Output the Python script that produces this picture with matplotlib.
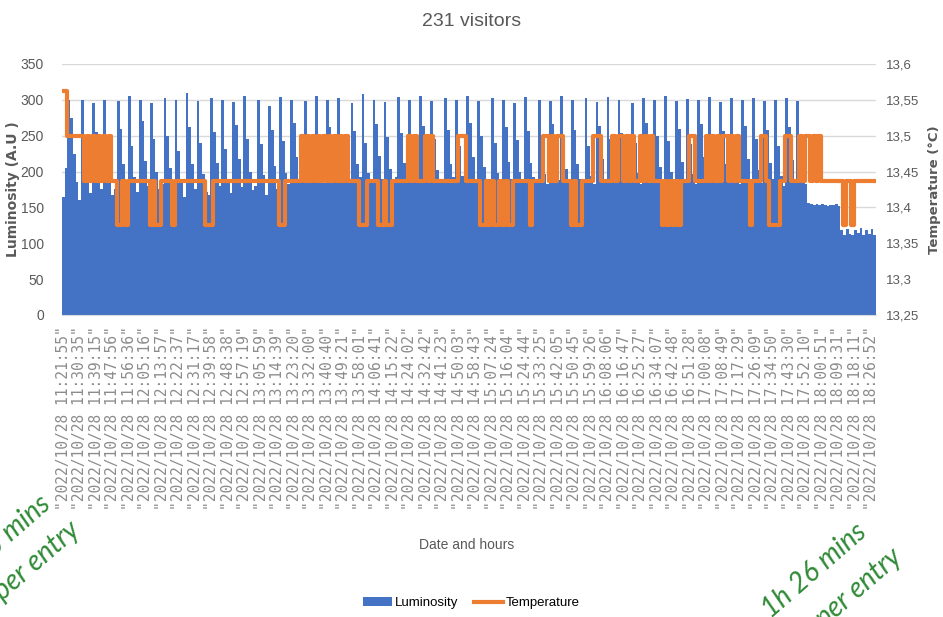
import numpy as np
import matplotlib
matplotlib.use("Agg")
import matplotlib.pyplot as plt
from matplotlib.patches import Patch
from matplotlib.lines import Line2D
from matplotlib.ticker import FuncFormatter, MultipleLocator

# x labels, one every 6 readings
time_labels = [
    "11:21:55", "11:30:35", "11:39:15", "11:47:56", "11:56:36", "12:05:16", "12:13:57",
    "12:22:37", "12:31:17", "12:39:58", "12:48:38", "12:57:19", "13:05:59", "13:14:39",
    "13:23:20", "13:32:00", "13:40:40", "13:49:21", "13:58:01", "14:06:41", "14:15:22",
    "14:24:02", "14:32:42", "14:41:23", "14:50:03", "14:58:43", "15:07:24", "15:16:04",
    "15:24:44", "15:33:25", "15:42:05", "15:50:45", "15:59:26", "16:08:06", "16:16:47",
    "16:25:27", "16:34:07", "16:42:48", "16:51:28", "17:00:08", "17:08:49", "17:17:29",
    "17:26:09", "17:34:50", "17:43:30", "17:52:10", "18:00:51", "18:09:31", "18:18:11",
    "18:26:52",
]
label_step = 6

# luminosity (A.U), estimated reading by reading
luminosity = [
    165, 205, 300, 275, 225, 185, 160,
    300, 240, 195, 170,  295, 255, 205, 175,  300, 230, 190, 168, 175,
    298, 260, 210, 178,  305, 235, 192, 172,  300, 270, 215, 180,
    296, 245, 200, 175, 182,  302, 250, 205, 170,  300, 228, 188, 165,
    310, 262, 210, 176,  298, 240, 196, 172, 168,  303, 255, 212, 180,
    300, 232, 190, 170,  297, 265, 218, 178,  305, 245, 200, 174, 180,
    300, 238, 195, 168,  292, 258, 208, 176,  304, 242, 198, 182,
    300, 268, 220, 186, 190,  298, 250, 205, 188,  306, 236, 196, 184,
    300, 262, 214, 190,  302, 244, 200, 186, 188,  295, 256, 210, 192,
    308, 240, 198, 186,  300, 266, 222, 190,  297, 248, 204, 188, 192,
    304, 254, 212, 186,  300, 238, 196, 184,  306, 264, 218, 190,
    299, 246, 202, 188, 186,  302, 258, 210, 192,  300, 236, 194, 185,
    305, 268, 220, 190,  298, 250, 206, 188, 190,  303, 240, 198, 184,
    300, 262, 214, 190,  296, 244, 200, 186,  304, 256, 212, 192, 188,
    300, 238, 196, 182,  298, 266, 220, 188,  305, 248, 204, 186,
    300, 258, 210, 190, 186,  302, 236, 194, 183,  297, 264, 218, 190,
    304, 246, 202, 186,  300, 254, 208, 188, 184,  296, 240, 198, 182,
    303, 268, 222, 190,  300, 250, 206, 186,  305, 242, 200, 184,
    298, 260, 214, 190,  301, 238, 196, 182,  300, 266, 220, 188,
    304, 248, 204, 184,  297, 256, 210, 190,  302, 240, 198, 182,
    300, 264, 218, 188,  303, 246, 202, 184,  298, 258, 212, 190,
    300, 236, 194, 180,  302, 262, 216, 186,  299, 244, 200, 182,
    156, 155, 154, 155, 153, 155, 154, 152, 154, 153, 155, 152,
    118, 112, 120, 113, 112, 119, 114, 121, 112, 118, 113, 120, 112,
]

# temperature (°C) as (value, number of readings)
temp_runs = [
    (13.5625, 2), (13.5, 6), (13.4375, 1), (13.5, 1), (13.4375, 1), (13.5, 1),
    (13.4375, 1), (13.5, 1), (13.4375, 1), (13.5, 1), (13.4375, 1), (13.5, 1),
    (13.4375, 2), (13.375, 2), (13.4375, 1), (13.375, 1), (13.4375, 8),
    (13.375, 1), (13.4375, 1), (13.375, 2), (13.4375, 4), (13.375, 1),
    (13.4375, 11), (13.375, 3), (13.4375, 24), (13.375, 2), (13.4375, 6),
    (13.5, 1), (13.4375, 1), (13.5, 1), (13.4375, 1), (13.5, 1), (13.4375, 1),
    (13.5, 1), (13.4375, 1), (13.5, 1), (13.4375, 1), (13.5, 1), (13.4375, 1),
    (13.5, 1), (13.4375, 1), (13.5, 1), (13.4375, 1), (13.5, 1),
    (13.4375, 4), (13.375, 3), (13.4375, 4), (13.375, 2), (13.4375, 1),
    (13.375, 2), (13.4375, 6), (13.5, 1), (13.4375, 1), (13.5, 1), (13.4375, 3),
    (13.5, 1), (13.4375, 1), (13.5, 1), (13.4375, 9), (13.5, 3), (13.4375, 5),
    (13.375, 2), (13.4375, 1), (13.375, 1), (13.4375, 1), (13.375, 2),
    (13.4375, 1), (13.375, 1), (13.4375, 1), (13.375, 2),
    (13.4375, 6), (13.375, 1), (13.4375, 4),
    (13.5, 2), (13.4375, 1), (13.5, 1), (13.4375, 1), (13.5, 2),
    (13.4375, 3), (13.375, 1), (13.4375, 1), (13.375, 2),
    (13.4375, 4), (13.5, 3), (13.4375, 4),
    (13.5, 1), (13.4375, 1), (13.5, 2), (13.4375, 1), (13.5, 1), (13.4375, 1), (13.5, 1),
    (13.4375, 2), (13.5, 1), (13.4375, 1), (13.5, 1), (13.4375, 1), (13.5, 1),
    (13.4375, 3), (13.375, 1), (13.4375, 1),
    (13.375, 1), (13.4375, 1), (13.375, 1), (13.4375, 1), (13.375, 1),
    (13.4375, 3), (13.5, 2), (13.4375, 4),
    (13.5, 1), (13.4375, 1), (13.5, 1), (13.4375, 1), (13.5, 1), (13.4375, 1),
    (13.5, 2), (13.4375, 1), (13.5, 1), (13.4375, 1), (13.5, 1),
    (13.4375, 4), (13.375, 1), (13.4375, 3), (13.5, 2), (13.4375, 1),
    (13.375, 4), (13.4375, 2), (13.5, 2), (13.4375, 3),
    (13.5, 1), (13.4375, 1), (13.5, 2), (13.4375, 1), (13.5, 1), (13.4375, 1), (13.5, 1),
    (13.4375, 8), (13.375, 1), (13.4375, 2), (13.375, 1), (13.4375, 8),
]

temperature = np.repeat([v for v, n in temp_runs], [n for v, n in temp_runs])
n = len(luminosity)
if len(temperature) != n:
    raise SystemExit(f"length mismatch: {len(temperature)} vs {n}")
x = np.arange(n)

GREY = "#595959"
SANS = ["Liberation Sans", "DejaVu Sans"]

fig = plt.figure(figsize=(9.43, 6.17), dpi=100)
ax = fig.add_axes([0.0657, 0.4895, 0.8633, 0.4068])

ax.bar(x, luminosity, width=1.0, color="#4472c4", linewidth=0)
ax.set_xlim(-0.5, n - 0.5)
ax.set_ylim(0, 350)
ax.yaxis.set_major_locator(MultipleLocator(50))
ax.grid(axis="y", color="#d9d9d9", linewidth=1)
ax.set_axisbelow(True)
for s in ["top", "left", "right"]:
    ax.spines[s].set_visible(False)
ax.spines["bottom"].set_color("#d9d9d9")
ax.tick_params(axis="both", length=0)
ax.tick_params(axis="y", pad=13, labelsize=10, labelcolor=GREY, labelfontfamily=SANS)

tick_pos = np.arange(0, len(time_labels) * label_step, label_step)
ax.set_xticks(tick_pos)
ax.set_xticklabels([f'"2022/10/28 {t}"' for t in time_labels], rotation=90,
                   family="DejaVu Sans Mono", fontsize=10.5, color="#8c8c8c")
ax.tick_params(axis="x", pad=8)

ax.set_ylabel("Luminosity (A.U )", fontsize=10, color=GREY, fontweight="bold")
ax.yaxis.set_label_coords(-0.052, 0.5)

ax2 = ax.twinx()
ax2.plot(x, temperature, drawstyle="steps-mid", color="#ed7d31", linewidth=3)
ax2.set_ylim(13.25, 13.6)
ax2.yaxis.set_major_locator(MultipleLocator(0.05))
ax2.yaxis.set_major_formatter(FuncFormatter(
    lambda v, p: f"{v:.2f}".rstrip("0").rstrip(".").replace(".", ",")))
for s in ax2.spines.values():
    s.set_visible(False)
ax2.tick_params(axis="y", length=0, pad=7, labelsize=9.5, labelcolor=GREY,
                labelfontfamily=SANS)
ax2.set_ylabel("Temperature (°C)", fontsize=9.5, color=GREY, fontweight="bold")
ax2.yaxis.set_label_coords(1.064, 0.5)

fig.text(0.5, 1 - 22 / 617, "231 visitors", ha="center", va="center",
         fontsize=14, color=GREY, family=SANS)
fig.text(467 / 943, 1 - 545 / 617, "Date and hours", ha="center", va="center",
         fontsize=10, color=GREY, family=SANS)

handles = [Patch(facecolor="#4472c4", edgecolor="none", label="Luminosity"),
           Line2D([0], [0], color="#ed7d31", linewidth=3, label="Temperature")]
fig.legend(handles=handles, loc="center", bbox_to_anchor=(0.5, 1 - 603 / 617), ncol=2,
           frameon=False, handlelength=2.2, columnspacing=1.2,
           handletextpad=0.2, prop={"family": SANS, "size": 9.5})

# green notes of neighbouring panels, cut by the figure edge
green = "#2f8a36"
notes = [
    ("1h 26 mins", 771, 619, "left"),
    ("per entry", 825, 628, "left"),
    ("1h 35 mins", 52, 507, "right"),
    ("per entry", 82, 533, "right"),
]
for txt, px, py, ha in notes:
    fig.text(px / 943, 1 - py / 617, txt, rotation=41, rotation_mode="anchor",
             ha=ha, va="baseline", fontsize=20, color=green, style="italic",
             family=["Lato", "DejaVu Sans"])

fig.savefig("out.png", dpi=100)
